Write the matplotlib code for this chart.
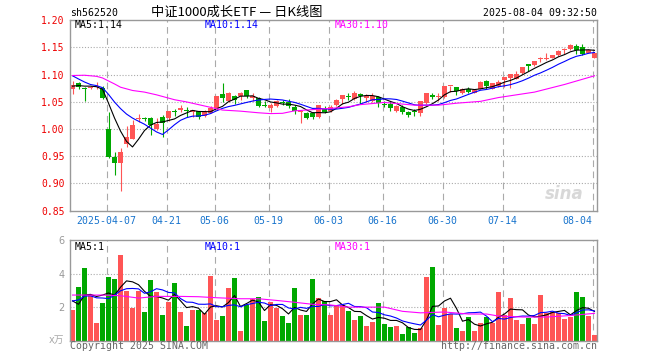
import numpy as np
import pandas as pd
import matplotlib
matplotlib.use('Agg')
import matplotlib.pyplot as plt

plt.rcParams['font.family'] = ['DejaVu Sans Mono', 'Noto Sans CJK SC']

# 562520 daily candles, 2025-03-27 .. 2025-08-04 (88 trading days)
open_ = [1.073, 1.084, 1.076, 1.075, 1.0765, 1.075, 1.000, 0.949, 0.938, 0.973,
         0.982, 1.018, 1.021, 1.021, 1.000, 1.022, 1.021, 1.033, 1.035, 1.034,
         1.032, 1.033, 1.025, 1.030, 1.038, 1.064, 1.051, 1.061, 1.061, 1.071,
         1.057, 1.058, 1.0425, 1.039, 1.0425, 1.049, 1.050, 1.0407, 1.031, 1.029,
         1.030, 1.022, 1.0376, 1.033, 1.044, 1.055, 1.060, 1.055, 1.064, 1.058,
         1.0516, 1.0596, 1.045, 1.0455, 1.034, 1.0406, 1.032, 1.032, 1.030, 1.0486,
         1.062, 1.059, 1.0596, 1.079, 1.078, 1.0657, 1.073, 1.067, 1.0742, 1.088,
         1.074, 1.079, 1.0895, 1.094, 1.093, 1.103, 1.120, 1.1185, 1.128, 1.1293,
         1.1315, 1.1364, 1.1447, 1.147, 1.153, 1.1512, 1.140, 1.1315]
high = [1.089, 1.086, 1.077, 1.080, 1.087, 1.080, 1.032, 0.958, 0.966, 1.006,
        1.016, 1.028, 1.022, 1.022, 1.020, 1.026, 1.034, 1.037, 1.044, 1.040,
        1.036, 1.033, 1.035, 1.042, 1.061, 1.084, 1.069, 1.062, 1.068, 1.072,
        1.066, 1.059, 1.051, 1.048, 1.054, 1.053, 1.055, 1.0437, 1.035, 1.0315,
        1.031, 1.045, 1.042, 1.045, 1.056, 1.062, 1.066, 1.070, 1.067, 1.064,
        1.066, 1.061, 1.051, 1.0516, 1.044, 1.0437, 1.034, 1.0376, 1.051, 1.067,
        1.067, 1.0657, 1.080, 1.080, 1.078, 1.076, 1.078, 1.073, 1.088, 1.090,
        1.085, 1.090, 1.095, 1.102, 1.107, 1.115, 1.1204, 1.126, 1.1327, 1.139,
        1.1364, 1.145, 1.1488, 1.1562, 1.1562, 1.1562, 1.1465, 1.140]
low = [1.064, 1.073, 1.052, 1.074, 1.073, 1.056, 0.947, 0.916, 0.887, 0.968,
       0.981, 1.013, 1.014, 0.990, 0.999, 0.986, 1.015, 1.024, 1.031, 1.022,
       1.022, 1.018, 1.023, 1.029, 1.036, 1.050, 1.049, 1.046, 1.053, 1.057,
       1.052, 1.041, 1.040, 1.031, 1.041, 1.044, 1.039, 1.027, 1.012, 1.019,
       1.019, 1.020, 1.029, 1.031, 1.043, 1.0455, 1.053, 1.053, 1.0455, 1.049,
       1.049, 1.0406, 1.040, 1.033, 1.032, 1.027, 1.023, 1.024, 1.024, 1.047,
       1.0547, 1.0516, 1.0577, 1.068, 1.062, 1.065, 1.0657, 1.0657, 1.073, 1.074,
       1.073, 1.078, 1.078, 1.076, 1.092, 1.102, 1.106, 1.116, 1.1235, 1.1266,
       1.1305, 1.135, 1.1377, 1.145, 1.1377, 1.1365, 1.139, 1.130]
close = [1.081, 1.0765, 1.074, 1.078, 1.080, 1.058, 0.948, 0.938, 0.958, 0.985,
         1.007, 1.019, 1.018, 1.007, 1.010, 1.0115, 1.033, 1.032, 1.039, 1.033,
         1.035, 1.023, 1.031, 1.038, 1.060, 1.057, 1.066, 1.054, 1.066, 1.060,
         1.060, 1.0425, 1.042, 1.045, 1.052, 1.048, 1.0425, 1.0333, 1.032, 1.021,
         1.0217, 1.044, 1.0315, 1.041, 1.0535, 1.062, 1.0595, 1.0657, 1.061, 1.061,
         1.061, 1.0486, 1.044, 1.0394, 1.0425, 1.0315, 1.026, 1.0315, 1.051, 1.0657,
         1.0596, 1.060, 1.079, 1.080, 1.0693, 1.074, 1.068, 1.072, 1.0865, 1.080,
         1.084, 1.0865, 1.095, 1.102, 1.102, 1.1136, 1.1155, 1.1253, 1.1287, 1.1298,
         1.1364, 1.1444, 1.145, 1.155, 1.145, 1.1377, 1.1463, 1.140]
# volume, x 10k
volume = [1.83, 3.20, 4.35, 2.72, 1.07, 2.25, 3.82, 3.68, 5.11, 2.96,
          1.97, 2.96, 1.71, 3.62, 2.90, 1.53, 2.31, 3.44, 1.71, 0.87,
          1.83, 1.83, 1.65, 3.86, 1.25, 1.47, 3.14, 3.74, 0.58, 2.13,
          2.49, 2.60, 1.19, 2.31, 1.95, 1.47, 1.05, 3.14, 1.53, 1.53,
          3.68, 2.54, 2.37, 1.53, 2.07, 2.13, 1.77, 1.23, 1.47, 0.87,
          1.11, 2.25, 0.99, 0.82, 0.87, 0.40, 0.82, 0.46, 0.76, 3.80,
          4.39, 0.93, 1.95, 1.59, 0.76, 0.58, 1.41, 0.58, 1.05, 1.41,
          1.05, 2.90, 1.53, 2.54, 1.23, 0.99, 1.35, 0.99, 2.72, 1.65,
          1.71, 1.65, 1.29, 1.41, 2.90, 2.60, 1.47, 0.34]

# days before the window (only needed for the 5/10-day averages, estimated)
pre_close = [1.135, 1.13, 1.124, 1.10, 1.096, 1.0715, 1.079, 1.078, 1.0855]
pre_volume = [2.6, 2.1, 2.5, 2.3, 2.35, 4.2, 1.6, 2.52, 1.7]

# 30-day averages (bar index, value)
ma30_idx = [0, 2, 4, 5, 7, 8, 10, 12, 14, 17, 19, 21, 23, 25, 28, 31, 33, 35,
            37, 41, 43, 46, 48, 52, 54, 57, 61, 64, 68, 71, 77, 82, 87]
ma30_val = [1.0985, 1.099, 1.097, 1.094, 1.083, 1.077, 1.071, 1.068, 1.063, 1.054,
            1.050, 1.045, 1.040, 1.035, 1.033, 1.030, 1.0285, 1.029, 1.0335, 1.0366,
            1.038, 1.041, 1.045, 1.049, 1.047, 1.044, 1.044, 1.0476, 1.051, 1.058,
            1.068, 1.082, 1.098]
vma30_idx = [0, 5, 8, 11, 14, 18, 21, 24, 28, 31, 34, 37, 40, 43, 46, 52, 55, 58,
             62, 66, 69, 71, 75, 79, 83, 87]
vma30_val = [2.72, 2.72, 2.68, 2.54, 2.64, 2.64, 2.62, 2.56, 2.50, 2.50, 2.40, 2.29,
             2.17, 2.13, 2.0, 2.0, 1.75, 1.66, 1.71, 1.59, 1.59, 1.47, 1.41, 1.41,
             1.5, 1.63]

tick_idx = [6, 16, 24, 33, 43, 52, 62, 72, 87]
tick_lbl = ['2025-04-07', '04-21', '05-06', '05-19', '06-03', '06-16', '06-30',
            '07-14', '08-04']
price_ticks = [0.85, 0.90, 0.95, 1.00, 1.05, 1.10, 1.15, 1.20]

RED = '#ff5555'
GREEN = '#00a800'
GRID = '#aaaaaa'
FRAME = '#999999'

n = len(close)
x = np.arange(n)
o = np.array(open_)
c = np.array(close)
up = c >= o
cols = np.where(up, RED, GREEN)

cs = pd.Series(pre_close + close)
ma5 = cs.rolling(5).mean().values[len(pre_close):]
ma10 = cs.rolling(10).mean().values[len(pre_close):]
vs = pd.Series(pre_volume + volume)
vma5 = vs.rolling(5).mean().values[len(pre_volume):]
vma10 = vs.rolling(10).mean().values[len(pre_volume):]

W, H = 660, 360
fig = plt.figure(figsize=(6.6, 3.6), dpi=100)
ax = fig.add_axes([70 / W, 149.3 / H, 527.3 / W, 190.4 / H])
axv = fig.add_axes([70 / W, 19.3 / H, 527.3 / W, 100.7 / H])
xlim = (-0.42, 87.47)

def frame(a):
    for s in a.spines.values():
        s.set_color(FRAME)
        s.set_linewidth(1.0)
    a.set_xlim(*xlim)
    for i in tick_idx:
        a.axvline(i - 0.3, color=GRID, lw=0.8, ls=(0, (6, 4)), zorder=0)

# --- price panel
frame(ax)
ax.set_ylim(0.85, 1.20)
for v in price_ticks[1:-1]:
    ax.axhline(v, color=GRID, lw=0.8, ls=(0, (1, 1.6)), zorder=0)
ax.vlines(x, low, high, colors=cols, lw=0.8, zorder=2)
body = np.maximum(np.abs(c - o), 0.0019)
ax.bar(x, body, bottom=np.minimum(o, c), width=0.83, color=cols, lw=0, zorder=2)
ax.plot(x, ma5, color='black', lw=0.8, zorder=3)
ax.plot(x, ma10, color='#0000ff', lw=0.8, zorder=3)
ax.plot(ma30_idx, ma30_val, color='#ff00ff', lw=0.8, zorder=3)

ax.set_yticks(price_ticks)
ax.set_yticklabels([f'{t:.2f}' for t in price_ticks], color='#ee0000', fontsize=7)
ax.set_xticks([i - 0.3 for i in tick_idx])
ax.set_xticklabels(tick_lbl, color='#1874cd', fontsize=7.1)
ax.get_xticklabels()[-1].set_horizontalalignment('right')
ax.tick_params(length=0, pad=4)

ax.text(85.2, 0.865, 'sina', fontsize=12, fontstyle='italic', fontweight='bold',
        color='#d8d8d8', ha='right', va='bottom', family='DejaVu Sans', zorder=1)

# --- volume panel
frame(axv)
axv.set_ylim(0, 6)
for v in [2, 4]:
    axv.axhline(v, color=GRID, lw=0.8, ls=(0, (1, 1.6)), zorder=0)
axv.bar(x, volume, width=0.83, color=cols, lw=0, zorder=2)
axv.plot(x, vma5, color='black', lw=0.8, zorder=3)
axv.plot(x, vma10, color='#0000ff', lw=0.8, zorder=3)
axv.plot(vma30_idx, vma30_val, color='#ff00ff', lw=0.8, zorder=3)
axv.set_yticks([2, 4, 6])
axv.set_yticklabels(['2', '4', '6'], color='#999999', fontsize=7, family='DejaVu Sans')
axv.set_xticks([])
axv.tick_params(length=0, pad=4)

# --- texts
def ftext(px, py, s, **kw):
    fig.text(px / W, 1 - py / H, s, va='center', **kw)

ftext(70, 13.5, 'sh562520', fontsize=7.1)
ftext(236.5, 12.7, '中证1000成长ETF — 日K线图', ha='center', fontsize=9.5,
      family=['Noto Sans CJK SC', 'DejaVu Sans'])
ftext(596.7, 13, '2025-08-04 09:32:50', ha='right', fontsize=7.1)

ftext(75, 25.5, f'MA5:{ma5[-1]:.2f}', fontsize=7.1, color='black')
ftext(205, 25.5, f'MA10:{ma10[-1]:.2f}', fontsize=7.1, color='#0000ff')
ftext(335, 25.5, f'MA30:{ma30_val[-1]:.2f}', fontsize=7.1, color='#ff00ff')

ftext(75, 246.7, f'MA5:{int(vma5[-1])}', fontsize=7.1, color='black')
ftext(205, 246.7, f'MA10:{int(vma10[-1])}', fontsize=7.1, color='#0000ff')
ftext(335, 246.7, f'MA30:{int(vma30_val[-1])}', fontsize=7.1, color='#ff00ff')

ftext(64, 340, 'x万', ha='right', fontsize=7, color='#aaaaaa',
      family=['DejaVu Sans', 'Noto Sans CJK SC'])
ftext(70, 346, 'Copyright 2025 SINA.COM', fontsize=7.1, color='#666666')
ftext(596.7, 346, 'http://finance.sina.com.cn', ha='right', fontsize=7.1, color='#666666')

fig.savefig('out.png', dpi=100)
